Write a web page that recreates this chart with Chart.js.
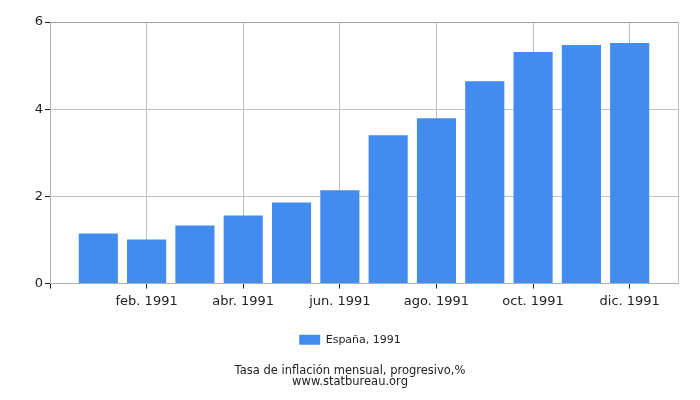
<!DOCTYPE html>
<html>
<head>
<meta charset="utf-8">
<script src="https://cdn.jsdelivr.net/npm/chart.js@4/dist/chart.umd.min.js"></script>
<style>
html,body{margin:0;padding:0;background:#fff;}
#wrap{width:700px;height:400px;}
</style>
</head>
<body>
<div id="wrap"><canvas id="c" width="700" height="400"></canvas></div>
<script>
const months = ['ene. 1991','feb. 1991','mar. 1991','abr. 1991','may. 1991','jun. 1991','jul. 1991','ago. 1991','sep. 1991','oct. 1991','nov. 1991','dic. 1991'];
const shownTicks = ['feb. 1991','abr. 1991','jun. 1991','ago. 1991','oct. 1991','dic. 1991'];
const values = [1.15, 1.01, 1.33, 1.56, 1.86, 2.14, 3.40, 3.79, 4.64, 5.31, 5.47, 5.52];
const seriesName = 'España, 1991';
const titleLines = ['Tasa de inflación mensual, progresivo,%', 'www.statbureau.org'];
const yMin = 0, yMax = 6, yStep = 2;

const labels = [''].concat(months, ['']);
const data = [null].concat(values, [null]);
const lastIdx = labels.length - 1;

Chart.defaults.font.family = 'DejaVu Sans';
Chart.defaults.color = '#222';

new Chart(document.getElementById('c'), {
  type: 'bar',
  data: {
    labels: labels,
    datasets: [{
      label: seriesName,
      data: data,
      backgroundColor: '#428bef',
      borderWidth: 0,
      categoryPercentage: 1,
      barPercentage: 0.81
    }]
  },
  options: {
    responsive: false,
    animation: false,
    devicePixelRatio: 1,
    layout: { padding: { left: 22, right: 22, top: 22, bottom: 13 } },
    scales: {
      x: {
        type: 'category',
        offset: false,
        afterFit: (axis) => { axis.height += 10; },
        grid: {
          offset: false,
          color: (ctx) => {
            const i = ctx.index;
            if (i === 0) return 'rgba(0,0,0,0)';
            if (i === lastIdx) return '#c0c0c0';
            return shownTicks.includes(labels[i]) ? '#c0c0c0' : 'rgba(0,0,0,0)';
          },
          tickColor: (ctx) => {
            const i = ctx.index;
            if (i === 0) return '#222';
            if (i === lastIdx) return 'rgba(0,0,0,0)';
            return shownTicks.includes(labels[i]) ? '#222' : 'rgba(0,0,0,0)';
          },
          tickLength: 5
        },
        border: { display: true, color: '#b0b0b0' },
        ticks: {
          autoSkip: false,
          maxRotation: 0,
          padding: 5,
          font: { size: 13 },
          color: '#222',
          callback: function(v, i) {
            const l = labels[i];
            return shownTicks.includes(l) ? l : '';
          }
        }
      },
      y: {
        min: yMin,
        max: yMax,
        afterFit: (axis) => { axis.width = 28; },
        grid: {
          color: (ctx) => ctx.tick && ctx.tick.value === yMax ? '#a0a0a0' : '#c0c0c0',
          tickColor: '#222',
          tickLength: 5
        },
        border: { display: true, color: '#b0b0b0' },
        ticks: {
          stepSize: yStep,
          padding: 2,
          font: { size: 13 },
          color: '#222'
        }
      }
    },
    plugins: {
      legend: {
        position: 'bottom',
        labels: {
          boxWidth: 21,
          boxHeight: 10,
          font: { size: 11 },
          color: '#222',
          padding: 10
        }
      },
      title: {
        display: true,
        position: 'bottom',
        text: titleLines,
        font: { size: 11.5, weight: 'normal', lineHeight: 0.95 },
        color: '#222',
        padding: { top: 10, bottom: 0 }
      },
      tooltip: { enabled: false }
    }
  }
});
</script>
</body>
</html>
